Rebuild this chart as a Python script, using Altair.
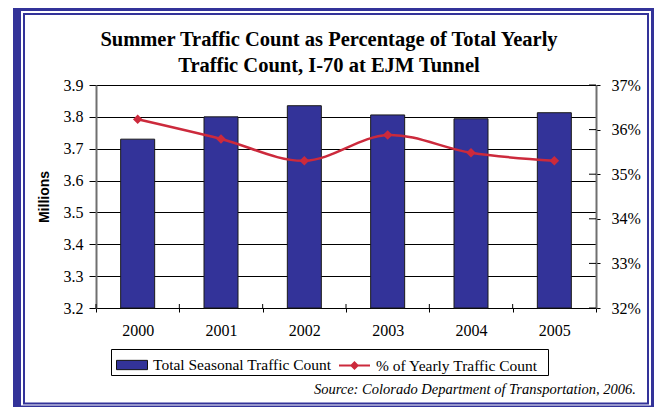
import altair as alt
import pandas as pd

# ---- data ----
years = ["2000", "2001", "2002", "2003", "2004", "2005"]
seasonal_millions = [3.73, 3.80, 3.835, 3.806, 3.794, 3.813]
pct_of_yearly = [36.23, 35.79, 35.30, 35.88, 35.48, 35.30]
left_ticks = [3.2, 3.3, 3.4, 3.5, 3.6, 3.7, 3.8, 3.9]
right_ticks = [32, 33, 34, 35, 36, 37]
series_names = ["Total Seasonal Traffic Count", "% of Yearly Traffic Count"]
title_lines = ["Summer Traffic Count as Percentage of Total Yearly",
               "Traffic Count, I-70 at EJM Tunnel"]
y_title = "Millions"
source_note = "Source: Colorado Department of Transportation, 2006."

# ---- styling ----
BLUE = "#333399"
RED = "#CC2A3C"
SERIF = "Liberation Serif"
SANS = "Liberation Sans"
W, H = 500, 223

df = pd.DataFrame({"year": years, "millions": seasonal_millions, "pct": pct_of_yearly,
                   "bar_series": series_names[0], "line_series": series_names[1]})
tick_df = pd.DataFrame({"tick": right_ticks})
one = pd.DataFrame({"k": [0]})

x_scale = alt.Scale(paddingInner=0, paddingOuter=0)
x_axis = alt.Axis(title=None, labelFont=SERIF, labelFontSize=16, labelColor="black",
                  labelAngle=0, tickBand="extent", tickSize=4, tickColor="black",
                  domainColor="black", labelPadding=10)

left_scale = alt.Scale(domain=[left_ticks[0], left_ticks[-1]], nice=False, zero=False)
left_axis = alt.Axis(values=left_ticks, format=".1f", title=y_title, titleFont=SANS,
                     titleFontSize=14, titleFontWeight="bold", titleColor="black",
                     titlePadding=12, labelFont=SERIF, labelFontSize=16, labelColor="black",
                     tickSize=7, tickColor="black", labelPadding=6, domainColor="#6f6f6f",
                     domainWidth=2, grid=True, gridColor="black", gridWidth=1, gridOpacity=1)

pct_scale = alt.Scale(domain=[right_ticks[0], right_ticks[-1]], nice=False, zero=False)
right_axis = alt.Axis(orient="right", values=right_ticks, labelExpr="datum.value + '%'",
                      title=None, labelFont=SERIF, labelFontSize=16, labelColor="black",
                      tickSize=4, tickColor="black", labelPadding=11, domainColor="#6f6f6f",
                      domainWidth=2, grid=False)

legend_common = dict(title=None, orient="none", direction="horizontal", padding=0,
                     labelFont=SERIF, labelFontSize=15.5, labelColor="black",
                     labelLimit=400, symbolSize=961, labelOffset=5)
bar_legend = alt.Legend(legendX=20, legendY=264,
                        symbolType="M-1,-0.3H1V0.3H-1Z", symbolFillColor=BLUE,
                        symbolStrokeColor="#111111", symbolStrokeWidth=1,
                        symbolOpacity=1, **legend_common)
line_legend = alt.Legend(legendX=242, legendY=264,
                         symbolType="M-1,0H1M0,-0.2L0.2,0L0,0.2L-0.2,0Z",
                         symbolFillColor=RED, symbolStrokeColor=RED, symbolStrokeWidth=2,
                         symbolOpacity=1, **legend_common)


def frame_bar(x, x2, y, y2):
    return alt.Chart(one).mark_rect(color=BLUE).encode(
        x=alt.value(x), x2=alt.value(x2), y=alt.value(y), y2=alt.value(y2))


def outline(x, x2, y, y2, color, width):
    return alt.Chart(one).mark_rect(fillOpacity=0, stroke=color, strokeWidth=width).encode(
        x=alt.value(x), x2=alt.value(x2), y=alt.value(y), y2=alt.value(y2))


frame = [
    frame_bar(-83, -75, -90, 330),
    frame_bar(-83, 570, -82, -74),
    frame_bar(555, 570, -90, 330),
    frame_bar(-83, 570, 320.5, 330),
    outline(-72, 552, -71, 318.5, BLUE, 2),
    outline(15.5, 452.5, 264.5, 290.5, "black", 1),
]

bars = alt.Chart(df).mark_bar(size=34, stroke="#1a1a1a", strokeWidth=1).encode(
    x=alt.X("year:N", scale=x_scale, axis=x_axis),
    y=alt.Y("millions:Q", scale=left_scale, axis=left_axis),
    y2=alt.datum(left_ticks[0]),
    fill=alt.Fill("bar_series:N",
                  scale=alt.Scale(domain=[series_names[0]], range=[BLUE]),
                  legend=bar_legend),
)

x_inner_ticks = alt.Chart(df).mark_rule(color="black", strokeWidth=1).encode(
    x=alt.X("year:N", bandPosition=0, scale=x_scale, axis=x_axis),
    y=alt.value(H - 4), y2=alt.value(H),
)

line = alt.Chart(df).mark_line(
    interpolate="catmull-rom", strokeWidth=2.5,
    point=alt.OverlayMarkDef(shape="diamond", size=45, filled=True, fill=RED, color=RED),
).encode(
    x=alt.X("year:N", scale=x_scale, axis=x_axis),
    y=alt.Y("pct:Q", scale=pct_scale, axis=right_axis),
    stroke=alt.Stroke("line_series:N",
                      scale=alt.Scale(domain=[series_names[1]], range=[RED]),
                      legend=line_legend),
)

r_inner_ticks = alt.Chart(tick_df).mark_rule(color="black", strokeWidth=1).encode(
    y=alt.Y("tick:Q", scale=pct_scale, axis=right_axis),
    x=alt.value(W - 7), x2=alt.value(W),
)

source = alt.Chart(one).mark_text(
    text=source_note, font=SERIF, fontStyle="italic", fontSize=14.5,
    align="right", baseline="alphabetic", color="black",
).encode(x=alt.value(540), y=alt.value(309))

title = alt.Chart(one).mark_text(
    text=title_lines, font=SERIF, fontSize=20.5, fontWeight="bold", lineHeight=26,
    align="center", baseline="alphabetic", color="black",
).encode(x=alt.value(233), y=alt.value(-39))

left_group = alt.layer(*frame, bars, x_inner_ticks, title)
right_group = alt.layer(line, r_inner_ticks, source)

chart = alt.layer(left_group, right_group).resolve_scale(y="independent").properties(
    width=W, height=H,
    padding={"left": 88, "top": 77, "right": 58, "bottom": 99},
    autosize=alt.AutoSizeParams(type="none"),
    background="white",
).configure_view(stroke=None)

chart.save("out.html", embed_options={"renderer": "svg", "actions": False})
